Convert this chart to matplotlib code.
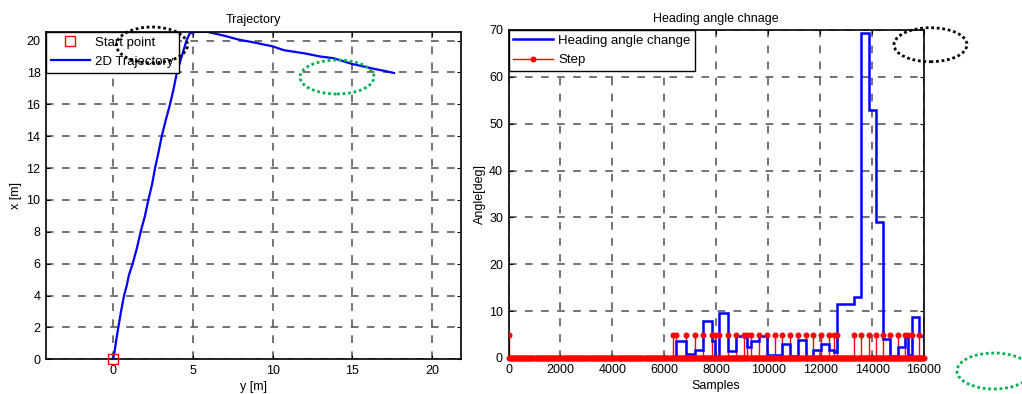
import numpy as np
import matplotlib
matplotlib.use("Agg")
import matplotlib.pyplot as plt
from matplotlib.patches import Ellipse
from matplotlib.lines import Line2D
from matplotlib.legend_handler import HandlerLine2D

plt.rcParams["font.family"] = ["Liberation Sans", "DejaVu Sans"]
plt.rcParams["font.size"] = 9

# 2D trajectory (horizontal axis is "y", vertical is "x")
traj_y = [0, 0.1, 0.2, 0.33, 0.5, 0.69, 0.85, 1.0, 1.23, 1.5, 1.73, 2.0,
          2.21, 2.45, 2.63, 2.85, 3.05, 3.3, 3.57, 3.8, 4.0, 4.3, 4.6, 4.8,
          5.2, 5.9, 7.0, 7.8, 9.0, 10.0, 10.7, 12.0, 13.0, 13.8, 15.0, 16.4,
          17.0, 17.6]
traj_x = [0, 0.5, 1.2, 2.0, 3.0, 4.0, 4.6, 5.3, 6.0, 7.0, 8.0, 9.0,
          10.0, 11.0, 12.0, 13.0, 14.0, 15.0, 16.0, 17.0, 18.0, 19.0, 20.0, 20.45,
          20.55, 20.55, 20.3, 20.08, 19.85, 19.64, 19.4, 19.2, 19.0, 18.9, 18.53, 18.22,
          18.1, 17.97]

# detected step samples (stem height 5)
step_samples = [0, 6320, 6460, 6846, 7180, 7490, 7820, 7960, 8115, 8434, 8742,
                9050, 9165, 9319, 9665, 9950, 10257, 10550, 10846, 11142, 11450,
                11742, 12050, 12346, 12527, 12665, 13307, 13588, 13873, 14154,
                14434, 14704, 14988, 15257, 15396, 15550, 15807]
step_height = 5

# heading angle change, held between step samples
heading_edges = [0, 6460, 6846, 7180, 7490, 7820, 7960, 8115, 8434, 8742, 9050,
                 9165, 9319, 9665, 9950, 10550, 10846, 11142, 11450, 11742,
                 12050, 12346, 12527, 12665, 13307, 13588, 13873, 14154, 14434,
                 14704, 14988, 15257, 15396, 15550, 15807, 16000]
heading_vals = [0, 3.7, 0.85, 1.8, 7.8, 3.7, 0.3, 9.6, 1.4, 4.7, 4.5,
                2.4, 3.7, 4.7, 0.7, 2.9, 0.5, 3.9, 0.0, 1.8,
                2.95, 1.7, 1.2, 11.6, 13.0, 69.3, 53.0, 29.0, 4.0,
                0.5, 2.25, 4.4, 0.7, 8.7, 4.7]

fig = plt.figure(figsize=(10.22, 3.94), dpi=100)
W, H = 1022, 394

grid_kw = dict(color="0.3", linestyle=(0, (5, 5.5)), linewidth=1.1)
leg_kw = dict(loc="upper left", borderaxespad=0, fancybox=False,
              edgecolor="k", framealpha=1, handlelength=3.0,
              handletextpad=0.4, borderpad=0.35, labelspacing=0.55,
              fontsize=9.5)

# ---- left: trajectory
ax1 = fig.add_axes([46 / W, 1 - 359.3 / H, 415 / W, 327.6 / H])
ax1.plot(traj_y[0], traj_x[0], "s", mfc="none", mec="r", ms=7, mew=1,
         clip_on=False, zorder=4, label="Start point")
ax1.plot(traj_y, traj_x, color="b", lw=1.6, label="2D Trajectory")
ax1.set_xlim(-4.2, 21.8)
ax1.set_ylim(0, 20.56)
ax1.set_xticks([0, 5, 10, 15, 20])
ax1.set_yticks(range(0, 21, 2))
ax1.grid(True, **grid_kw)
ax1.set_title("Trajectory", fontsize=9, pad=6)
ax1.set_xlabel("y [m]", labelpad=3)
ax1.set_ylabel("x [m]", labelpad=3)
leg1 = ax1.legend(numpoints=1, **leg_kw)
leg1.get_frame().set_linewidth(1)

# ---- right: heading angle change
ax2 = fig.add_axes([508.5 / W, 1 - 358 / H, 415.5 / W, 328 / H])
samples = np.arange(0, 16001, 40)
ax2.plot(samples, np.zeros_like(samples), "o", color="r", ms=3.3,
         clip_on=False, zorder=3)
ax2.axhline(0, color="r", lw=2.5, zorder=3)
ax2.vlines(step_samples, 0, step_height, color="r", lw=1, zorder=2)
ax2.plot(step_samples, [step_height] * len(step_samples), "o", color="r",
         ms=3.3, zorder=3)
ax2.stairs(heading_vals, heading_edges, color="b", lw=1.8, zorder=2.5,
           baseline=None)
ax2.set_xlim(0, 16000)
ax2.set_ylim(0, 70)
ax2.set_xticks(range(0, 16001, 2000))
ax2.set_yticks(range(0, 71, 10))
ax2.grid(True, **grid_kw)
ax2.set_title("Heading angle chnage", fontsize=9, pad=6)
ax2.set_xlabel("Samples", labelpad=3)
ax2.set_ylabel("Angle[deg]", labelpad=2)


class StemHandler(HandlerLine2D):
    def get_xdata(self, legend, xdescent, ydescent, width, height, fontsize):
        xdata, _ = super().get_xdata(legend, xdescent, ydescent, width,
                                     height, fontsize)
        return xdata, [xdata[-1]]


h_blue = Line2D([], [], color="b", lw=1.8)
h_red = Line2D([], [], color="r", lw=1, marker="o", ms=3.3)
leg2 = ax2.legend([h_blue, h_red], ["Heading angle change", "Step"],
                  handler_map={h_red: StemHandler(numpoints=1)}, **leg_kw)
leg2.get_frame().set_linewidth(1)

for ax in (ax1, ax2):
    ax.tick_params(direction="in", length=3, top=True, right=True,
                   labelsize=9, pad=4)
    for s in ax.spines.values():
        s.set_linewidth(1.2)
    ax.set_axisbelow(True)

# dotted highlight ellipses
for cx, cy, w, h, c in [(152, 45, 71, 36, "k"), (337, 77, 74, 34, "#00b050"),
                        (930.5, 44.7, 73, 34, "k"), (994, 371, 74, 36, "#00b050")]:
    fig.add_artist(Ellipse((cx / W, 1 - cy / H), w / W, h / H,
                           transform=fig.transFigure, fill=False, ec=c,
                           lw=2, ls=(0, (1, 1)), zorder=10))

fig.savefig("out.png", dpi=100)
